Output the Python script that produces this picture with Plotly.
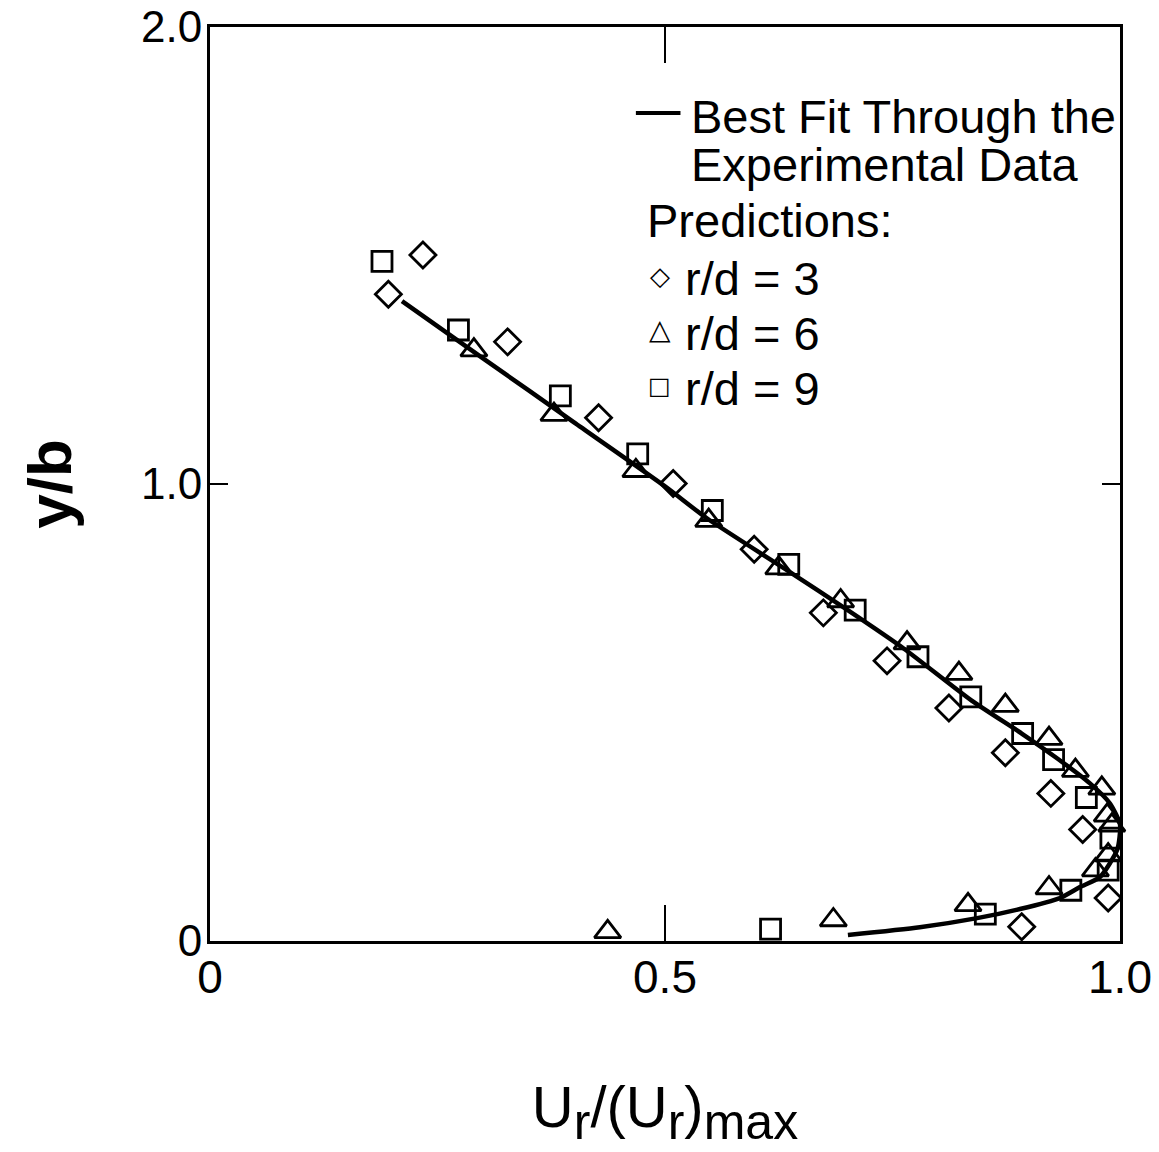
import plotly.graph_objects as go

# ---- data ----
fit_x = [0.211, 0.30, 0.40, 0.50, 0.546, 0.636, 0.70, 0.763, 0.837, 0.892, 0.930, 0.967,
         0.989, 1.0, 0.997, 0.978, 0.956, 0.934, 0.89, 0.843, 0.78, 0.701]
fit_y = [1.400, 1.275, 1.135, 0.995, 0.925, 0.809, 0.725, 0.639, 0.526, 0.454, 0.401, 0.345,
         0.301, 0.255, 0.200, 0.140, 0.118, 0.094, 0.070, 0.050, 0.030, 0.013]

rd3_x = [0.234, 0.196, 0.327, 0.427, 0.509, 0.598, 0.674, 0.744, 0.812, 0.874, 0.924, 0.959, 0.987, 0.892]
rd3_y = [1.501, 1.415, 1.311, 1.145, 1.001, 0.857, 0.718, 0.613, 0.510, 0.412, 0.323, 0.244, 0.094, 0.031]

rd6_x = [0.290, 0.378, 0.468, 0.548, 0.625, 0.693, 0.766, 0.823, 0.874, 0.922, 0.951, 0.980,
         0.986, 0.991, 0.987, 0.973, 0.922, 0.833, 0.685, 0.437]
rd6_y = [1.293, 1.152, 1.029, 0.920, 0.816, 0.744, 0.652, 0.585, 0.515, 0.443, 0.373, 0.334,
         0.275, 0.253, 0.188, 0.155, 0.116, 0.079, 0.046, 0.020]

rd9_x = [0.189, 0.273, 0.385, 0.470, 0.552, 0.636, 0.709, 0.778, 0.836, 0.893, 0.927, 0.963,
         0.990, 0.987, 0.946, 0.852, 0.616]
rd9_y = [1.487, 1.337, 1.193, 1.066, 0.942, 0.824, 0.724, 0.622, 0.534, 0.454, 0.397, 0.314,
         0.225, 0.155, 0.111, 0.059, 0.026]

x_ticks = [0, 0.5, 1.0]
x_ticklabels = ["0", "0.5", "1.0"]
y_ticks = [0, 1.0, 2.0]
y_ticklabels = ["0", "1.0", "2.0"]

fit_name = "Best Fit Through the"
fit_name2 = "Experimental Data"
pred_title = "Predictions:"
series_names = ["r/d = 3", "r/d = 6", "r/d = 9"]
series_glyphs = ["\u25C7", "\u25B3", "\u25A1"]

FONT = "Liberation Sans, Arial, Helvetica, sans-serif"
SYMFONT = "DejaVu Sans, sans-serif"

fig = go.Figure()

fig.add_trace(go.Scatter(
    x=fit_x, y=fit_y, mode="lines",
    line=dict(color="black", width=4.5, shape="spline", smoothing=0.6),
    name=fit_name + " " + fit_name2, showlegend=False, cliponaxis=False,
))

mk_line = dict(color="black", width=2.8)
symbols = ["diamond-open", "triangle-up-open", "square-open"]
sizes = [20, 23, 20]
for xs, ys, nm, sym, sz in zip([rd3_x, rd6_x, rd9_x], [rd3_y, rd6_y, rd9_y],
                               series_names, symbols, sizes):
    fig.add_trace(go.Scatter(
        x=xs, y=ys, mode="markers", name=nm, showlegend=False,
        marker=dict(symbol=sym, size=sz, color="black", line=mk_line),
        cliponaxis=False,
    ))

# ---- legend drawn as text (paper coordinates) ----
LF = 47
ann = []
def txt(s, x, y, size=LF, family=FONT, xanchor="left"):
    ann.append(dict(text=s, x=x, y=y, xref="paper", yref="paper",
                    xanchor=xanchor, yanchor="middle", showarrow=False,
                    font=dict(size=size, family=family, color="black")))

txt(fit_name, 0.5265, 0.902)
txt(fit_name2, 0.5265, 0.850)
txt(pred_title, 0.4775, 0.788)
ys_leg = [0.725, 0.665, 0.604]
for g, nm, yl in zip(series_glyphs, series_names, ys_leg):
    txt(nm, 0.520, yl)
txt(series_glyphs[0], 0.4945, ys_leg[0] + 0.003, size=26, family=SYMFONT, xanchor="center")
txt(series_glyphs[1], 0.4945, ys_leg[1] + 0.004, size=28, family=SYMFONT, xanchor="center")
txt(series_glyphs[2], 0.4935, ys_leg[2] + 0.003, size=24, family=SYMFONT, xanchor="center")

fig.update_layout(
    width=1159, height=1152,
    margin=dict(l=210, r=39, t=27, b=211),
    paper_bgcolor="white", plot_bgcolor="white",
    font=dict(family=FONT, color="black"),
    showlegend=False,
    annotations=ann,
    shapes=[dict(type="line", xref="paper", yref="paper",
                 x0=0.468, x1=0.517, y0=0.906, y1=0.906,
                 line=dict(color="black", width=4))],
    xaxis=dict(
        range=[0, 1.0], tickvals=x_ticks, ticktext=x_ticklabels,
        ticks="inside", ticklen=36, tickwidth=2, tickcolor="black",
        showline=True, linewidth=3, linecolor="black", mirror="ticks",
        showgrid=False, zeroline=False, automargin=False,
        tickfont=dict(size=46, family=FONT, color="black"),
        ticklabelstandoff=-6, ticklabeloverflow="allow",
        title=dict(text="U<sub><span style='font-size:50px'>r</span></sub>/(U<sub><span style='font-size:50px'>r</span></sub>)<sub><span style='font-size:50px'>max</span></sub>",
                   font=dict(size=58, family=FONT, color="black"), standoff=85),
    ),
    yaxis=dict(
        range=[0, 2.0], tickvals=y_ticks, ticktext=y_ticklabels,
        ticks="inside", ticklen=18, tickwidth=2, tickcolor="black",
        showline=True, linewidth=3, linecolor="black", mirror="ticks",
        showgrid=False, zeroline=False, automargin=False,
        tickfont=dict(size=44, family=FONT, color="black"),
        ticklabelstandoff=-4, ticklabeloverflow="allow",
        title=dict(text="<b>y/b</b>",
                   font=dict(size=62, family=FONT, color="black"), standoff=50),
    ),
)

fig.write_html("out.html")
